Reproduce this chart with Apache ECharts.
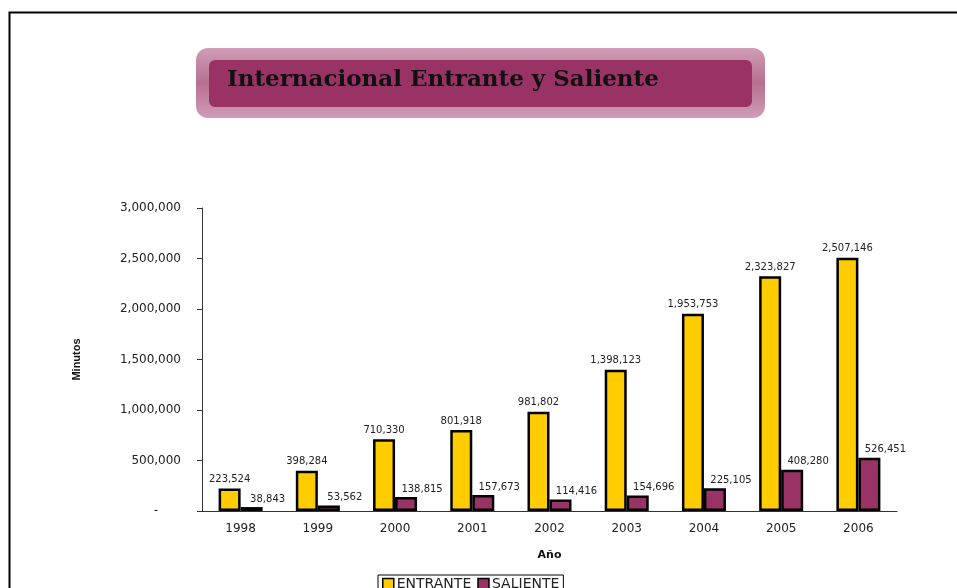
<html>

<head>
    <meta charset="utf-8">
    <script src="https://cdn.jsdelivr.net/npm/echarts@6/dist/echarts.min.js"></script>
    <style>
        body {
            margin: 0;
            background: #fff;
        }

        #chart {
            width: 957px;
            height: 588px;
        }
    </style>
</head>

<body>
    <div id="chart"></div>
    <script>
        var years = ['1998', '1999', '2000', '2001', '2002', '2003', '2004', '2005', '2006'];
        var entrante = [223524, 398284, 710330, 801918, 981802, 1398123, 1953753, 2323827, 2507146];
        var saliente = [38843, 53562, 138815, 157673, 114416, 154696, 225105, 408280, 526451];

        function fmt(v) {
            return Number(v).toLocaleString('en-US');
        }

        var myChart = echarts.init(document.getElementById('chart'));
        var option = {
            backgroundColor: '#fff',
            animation: false,
            color: ['#FFCC00', '#993366'],
            graphic: [
                // page frame
                {
                    type: 'rect', left: 7, top: 10, z: -1,
                    shape: { width: 1000, height: 700 },
                    style: { fill: 'none', stroke: '#000', lineWidth: 2 }
                },
                // title box
                {
                    type: 'rect', left: 196, top: 48, z: 0,
                    shape: { width: 569, height: 70, r: 12 },
                    style: {
                        fill: new echarts.graphic.LinearGradient(0, 0, 0, 1, [
                            { offset: 0, color: '#cf9db5' },
                            { offset: 0.5, color: '#b7708f' },
                            { offset: 1, color: '#cf9db5' }
                        ])
                    }
                },
                {
                    type: 'rect', left: 209, top: 60, z: 1,
                    shape: { width: 543, height: 47, r: 6 },
                    style: { fill: '#993366' }
                }
            ],
            title: {
                text: 'Internacional Entrante y Saliente',
                left: 222,
                top: 64,
                z: 5,
                textStyle: {
                    fontFamily: 'DejaVu Serif',
                    fontWeight: 'bold',
                    fontSize: 23,
                    color: '#111'
                }
            },
            legend: {
                data: ['ENTRANTE', 'SALIENTE'],
                left: 378,
                top: 575,
                padding: [2, 4, 2, 4],
                borderColor: '#000',
                borderWidth: 1,
                itemWidth: 11,
                itemHeight: 11,
                itemGap: 6,
                icon: 'rect',
                itemStyle: { borderColor: '#000', borderWidth: 1.5 },
                textStyle: {
                    fontFamily: 'DejaVu Sans',
                    fontSize: 14,
                    color: '#222',
                    padding: [0, 0, 0, -2]
                }
            },
            grid: {
                left: 202,
                right: 60,
                top: 208,
                bottom: 77
            },
            xAxis: {
                type: 'category',
                data: years,
                name: 'Año',
                nameLocation: 'middle',
                nameGap: 39,
                nameTextStyle: {
                    fontFamily: 'DejaVu Sans',
                    fontWeight: 'bold',
                    fontSize: 11,
                    color: '#111'
                },
                axisLine: { lineStyle: { color: '#333', width: 1 } },
                axisTick: { length: 5, lineStyle: { color: '#333' } },
                axisLabel: {
                    margin: 12,
                    fontFamily: 'DejaVu Sans',
                    fontSize: 12,
                    color: '#222'
                }
            },
            yAxis: {
                type: 'value',
                min: 0,
                max: 3000000,
                interval: 500000,
                name: 'Minutos',
                nameLocation: 'middle',
                nameGap: 120,
                nameTextStyle: {
                    fontFamily: 'Liberation Sans',
                    fontWeight: 'bold',
                    fontSize: 11,
                    color: '#111'
                },
                splitLine: { show: false },
                axisLine: { show: true, lineStyle: { color: '#333', width: 1 } },
                axisTick: { show: true, length: 5, lineStyle: { color: '#333' } },
                axisLabel: {
                    margin: 21,
                    fontFamily: 'DejaVu Sans',
                    fontSize: 12,
                    color: '#222',
                    formatter: function (v) {
                        return v === 0 ? '-      ' : fmt(v);
                    }
                }
            },
            series: [
                {
                    name: 'ENTRANTE',
                    type: 'bar',
                    data: entrante,
                    barGap: '0%',
                    barCategoryGap: '43%',
                    itemStyle: { borderColor: '#000', borderWidth: 2.5 },
                    label: {
                        show: true,
                        position: 'top',
                        distance: 4,
                        fontFamily: 'DejaVu Sans',
                        fontSize: 10,
                        color: '#222',
                        formatter: function (p) { return fmt(p.value); }
                    }
                },
                {
                    name: 'SALIENTE',
                    type: 'bar',
                    data: saliente,
                    barGap: '0%',
                    barCategoryGap: '43%',
                    itemStyle: { borderColor: '#000', borderWidth: 2.5 },
                    label: {
                        show: true,
                        position: 'top',
                        distance: 3,
                        offset: [16, 0],
                        fontFamily: 'DejaVu Sans',
                        fontSize: 10,
                        color: '#222',
                        formatter: function (p) { return fmt(p.value); }
                    }
                }
            ]
        };

        myChart.setOption(option);
        window.onresize = myChart.resize;
    </script>
</body>

</html>
